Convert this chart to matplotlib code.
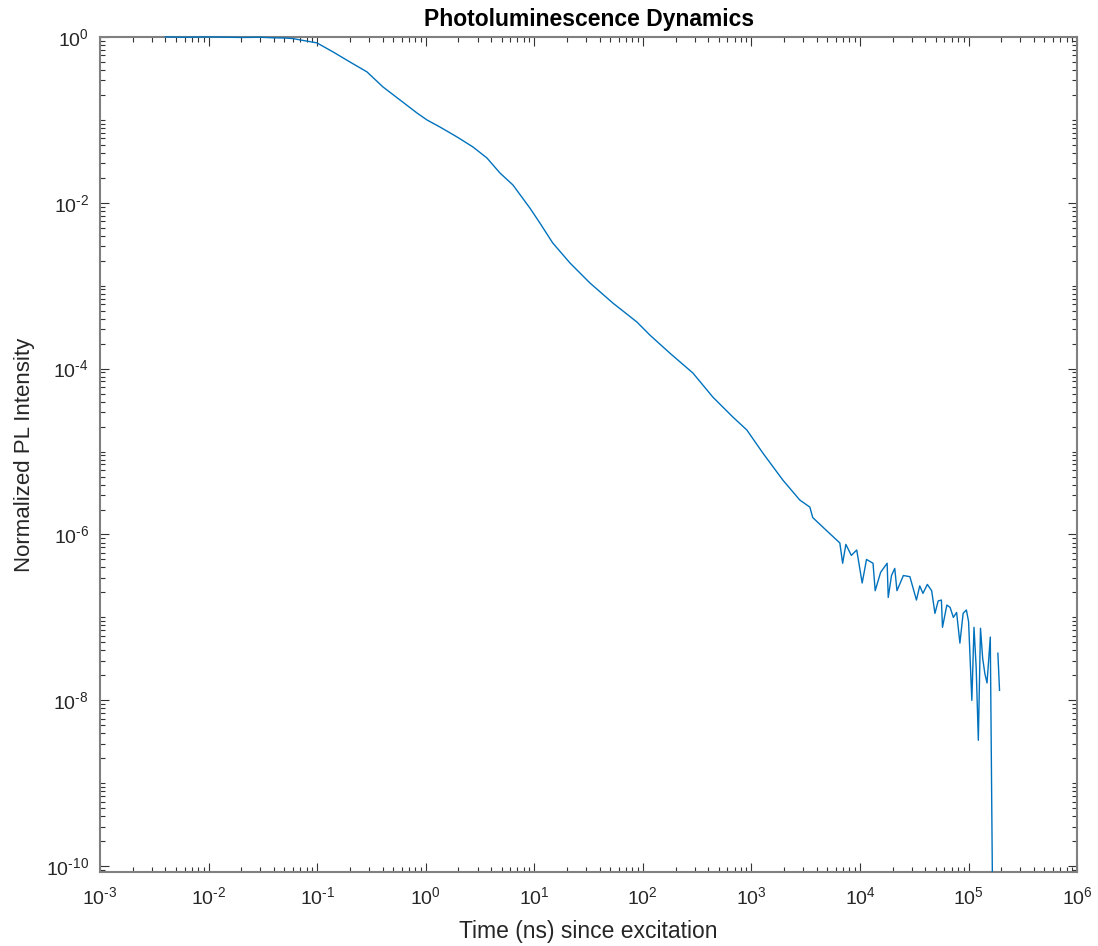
import numpy as np
import matplotlib
matplotlib.use("Agg")
import matplotlib.pyplot as plt
from matplotlib.ticker import LogLocator, FixedLocator, FuncFormatter, NullFormatter
from matplotlib.transforms import Bbox, TransformedBbox

plt.rcParams['font.family'] = ['Liberation Sans', 'DejaVu Sans']
plt.rcParams['mathtext.fontset'] = 'custom'
plt.rcParams['mathtext.rm'] = 'Liberation Sans'
plt.rcParams['mathtext.it'] = 'Liberation Sans'

# time after excitation (ns)
time_ns = [0.004, 0.006, 0.01, 0.02, 0.03, 0.04, 0.05, 0.06, 0.0695, 0.0995,
           0.14, 0.20, 0.288, 0.404, 0.578, 0.83, 1.026, 1.35, 1.94, 2.72,
           3.66, 4.82, 6.35, 9.10, 11.26, 14.8, 21.3, 32.5, 52.9, 88.1,
           116, 177, 289, 441, 674, 907, 1274, 1947, 2791, 3451,
           3670, 4900, 6520, 6920, 7410, 8320, 9330, 10470, 11480, 13180,
           13800, 15490, 17780, 18200, 19500, 20900, 21900, 25100, 28800, 33100,
           35500, 38000, 41700, 45700, 49000, 52500, 56200, 57500, 63100, 67600,
           72400, 77600, 83200, 89100, 95500, 100000, 107200, 112200, 117500, 123000,
           128800, 134900, 141300, 147900, 158500, 167900, 177800, 186200, 192800]

# normalized PL intensity (nan = non-positive sample, not drawn on log axis)
pl_intensity = [1.0, 0.99, 1.0, 0.985, 0.99, 0.975, 0.97, 0.955, 0.92, 0.847,
                0.659, 0.499, 0.378, 0.249, 0.174, 0.121, 0.0997, 0.082, 0.0622, 0.0471,
                0.0347, 0.0229, 0.0164, 8.65e-3, 5.70e-3, 3.27e-3, 1.88e-3, 1.08e-3, 6.18e-4, 3.65e-4,
                2.54e-4, 1.54e-4, 8.85e-5, 4.54e-5, 2.61e-5, 1.82e-5, 9.6e-6, 4.53e-6, 2.60e-6, 2.14e-6,
                1.6e-6, 1.12e-6, 7.9e-7, 4.5e-7, 7.6e-7, 5.6e-7, 6.5e-7, 2.6e-7, 5.0e-7, 4.5e-7,
                2.1e-7, 3.5e-7, 4.5e-7, 1.74e-7, 3.2e-7, 3.9e-7, 2.1e-7, 3.2e-7, 3.1e-7, 1.62e-7,
                2.4e-7, 1.95e-7, 2.5e-7, 2.1e-7, 1.12e-7, 1.58e-7, 1.62e-7, 7.6e-8, 1.41e-7, 1.32e-7,
                1.0e-7, 1.15e-7, 4.9e-8, 1.12e-7, 1.23e-7, 8.9e-8, 1.0e-8, 7.6e-8, 2.5e-8, 3.3e-9,
                7.4e-8, 3.2e-8, 2.1e-8, 1.62e-8, 5.8e-8, 1e-11, np.nan, 3.7e-8, 1.32e-8]

# labelled decades on each axis
x_ticks = [1e-3, 1e-2, 1e-1, 1e0, 1e1, 1e2, 1e3, 1e4, 1e5, 1e6]
y_ticks = [1e-10, 1e-8, 1e-6, 1e-4, 1e-2, 1e0]

axis_col = '#262626'


def pow10_label(v, pos):
    # MATLAB style exponent with a plain hyphen
    e = int(round(np.log10(v)))
    return r'$10^{\text{%d}}$' % e


fig = plt.figure(figsize=(10.98, 9.46), dpi=100)
ax = fig.add_axes([0.0911, 0.0782, 0.8899, 0.8828])

line, = ax.plot(time_ns, pl_intensity, color='#0072BD', linewidth=1.0, zorder=3)
# let the flat start (I = 1) show fully on the top edge, still clip at the bottom
line.set_clip_box(TransformedBbox(Bbox([[0, 0], [1, 1.01]]), ax.transAxes))

ax.set_xscale('log')
ax.set_yscale('log')
ax.set_xlim(1e-3, 1e6)
ax.set_ylim(10 ** -10.07, 1)

ax.xaxis.set_major_locator(FixedLocator(x_ticks))
ax.xaxis.set_minor_locator(LogLocator(base=10, subs=np.arange(2, 10), numticks=100))
ax.yaxis.set_major_locator(FixedLocator(y_ticks))
ax.yaxis.set_minor_locator(LogLocator(base=10, subs=np.arange(1, 10), numticks=100))
ax.xaxis.set_major_formatter(FuncFormatter(pow10_label))
ax.yaxis.set_major_formatter(FuncFormatter(pow10_label))
ax.xaxis.set_minor_formatter(NullFormatter())
ax.yaxis.set_minor_formatter(NullFormatter())

ax.tick_params(which='both', direction='in', top=True, right=True,
               color='#333333', labelcolor=axis_col, labelsize=14)
ax.tick_params(axis='x', which='major', pad=10)
ax.tick_params(axis='y', which='major', pad=8)
ax.tick_params(which='major', length=6.5, width=0.8)
ax.tick_params(which='minor', length=3.5, width=0.8)
for s in ax.spines.values():
    s.set_color('#808080')
    s.set_linewidth(1.5)

ax.set_xlabel('Time (ns) since excitation', fontsize=16.5, color=axis_col, labelpad=9)
ax.set_ylabel('Normalized PL Intensity', fontsize=16, color=axis_col, labelpad=8)
ax.set_title('Photoluminescence Dynamics', fontsize=16.5, fontweight='bold', color='black', pad=8)

fig.savefig('out.png', dpi=100, facecolor='white')
